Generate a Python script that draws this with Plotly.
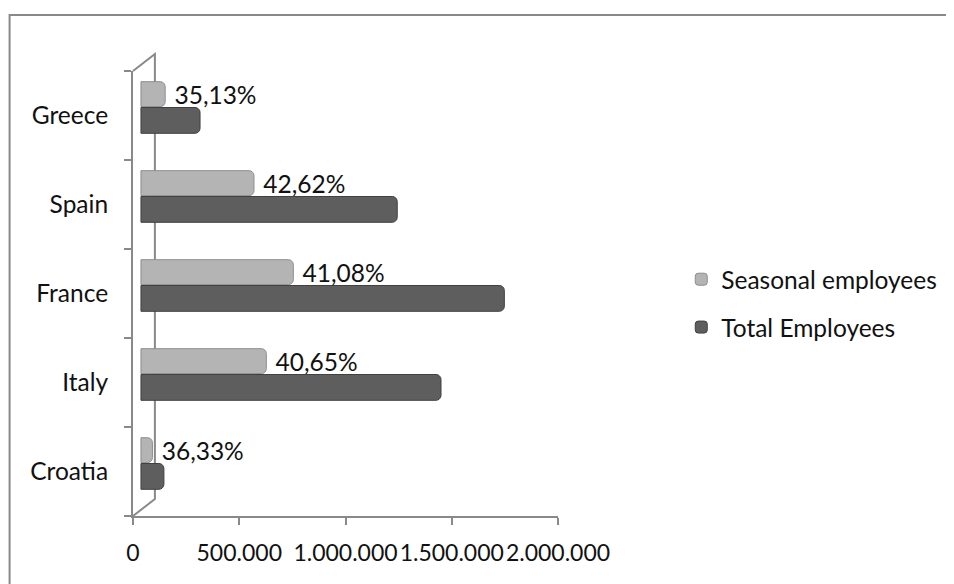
import plotly.graph_objects as go

countries = ["Croatia", "Italy", "France", "Spain", "Greece"]
total_employees = [108000, 1412000, 1710000, 1206000, 278000]
seasonal_employees = [54000, 590000, 717000, 532000, 114000]
seasonal_pct = [36.33, 40.65, 41.08, 42.62, 35.13]
x_ticks = [0, 500000, 1000000, 1500000, 2000000]

FONT = "Lato"
GRAY = "#898989"
PAGE_OFF = 8          # default body margin of the html page
W, H = 954 - PAGE_OFF, 584 - PAGE_OFF
ML, MT = 133 - PAGE_OFF, 71 - PAGE_OFF
plot_w, plot_h = 427, 445
MR = W - ML - plot_w
MB = H - MT - plot_h
depth_px = 8
shift = depth_px / plot_w * (x_ticks[-1] - x_ticks[0])

fig = go.Figure()
fig.add_trace(go.Bar(
    name="Seasonal employees", y=countries, x=seasonal_employees,
    orientation="h", xaxis="x2", yaxis="y",
    offset=0.1, width=0.28,
    marker=dict(color="#b4b4b4", line=dict(color="#8e8e8e", width=1), cornerradius=5),
    text=seasonal_pct, texttemplate=" %{text:.2f}%", textposition="outside",
    constraintext="none",
    textfont=dict(family=FONT, size=24.5, color="#111111"),
    cliponaxis=False, legendgroup="s",
))
fig.add_trace(go.Bar(
    name="Total Employees", y=countries, x=total_employees,
    orientation="h", xaxis="x2", yaxis="y",
    offset=-0.2, width=0.29,
    marker=dict(color="#5e5e5e", line=dict(color="#404040", width=1), cornerradius=5),
    cliponaxis=False, legendgroup="t",
))
# empty helper trace so that the visible value axis is drawn
fig.add_trace(go.Scatter(x=[], y=[], xaxis="x", yaxis="y", showlegend=False,
                         hoverinfo="skip"))

def px_x(p):
    # page pixel -> paper coordinate
    return (p - PAGE_OFF - ML) / plot_w

def px_y(p):
    return (MT + plot_h - (p - PAGE_OFF)) / plot_h

shapes = [
    # outer chart border (only top and left edges are visible in the frame)
    dict(type="path", xref="paper", yref="paper",
         path=f"M {px_x(9)},{px_y(620)} L {px_x(9)},{px_y(15)} L {px_x(990)},{px_y(15)}",
         line=dict(color=GRAY, width=2), layer="below"),
    # 3D back wall outline
    dict(type="path", xref="paper", yref="paper",
         path=f"M 0,1 L {px_x(155)},{px_y(54)} L {px_x(155)},{px_y(499)} L 0,0",
         line=dict(color=GRAY, width=2), layer="below"),
]

fig.update_layout(
    width=W, height=H,
    margin=dict(l=ML, r=MR, t=MT, b=MB),
    paper_bgcolor="white", plot_bgcolor="white",
    separators=",.",
    barmode="overlay",
    font=dict(family=FONT, size=24.5, color="#111111"),
    showlegend=True,
    legend=dict(x=1.29, y=0.478, xanchor="left", yanchor="middle",
                font=dict(family=FONT, size=24.5, color="#111111"),
                tracegroupgap=13, bgcolor="rgba(0,0,0,0)"),
    xaxis=dict(range=[x_ticks[0], x_ticks[-1]], tickvals=x_ticks, tickformat=",d",
               tickangle=0, tickfont=dict(family=FONT, size=23, color="#111111"),
               showgrid=False, zeroline=False, showline=True, linecolor=GRAY, linewidth=2,
               ticks="outside", ticklen=7, tickcolor=GRAY, tickwidth=2,
               ticklabelstandoff=8, fixedrange=True),
    xaxis2=dict(range=[x_ticks[0] - shift, x_ticks[-1] - shift], overlaying="x",
                anchor="y", visible=False),
    yaxis=dict(categoryorder="array", categoryarray=countries,
               showgrid=False, zeroline=False, showline=True, linecolor=GRAY, linewidth=2,
               ticks="outside", ticklen=7, tickcolor=GRAY, tickwidth=2,
               tickson="boundaries", ticklabelstandoff=18),
    shapes=shapes,
)

fig.write_html("out.html")
